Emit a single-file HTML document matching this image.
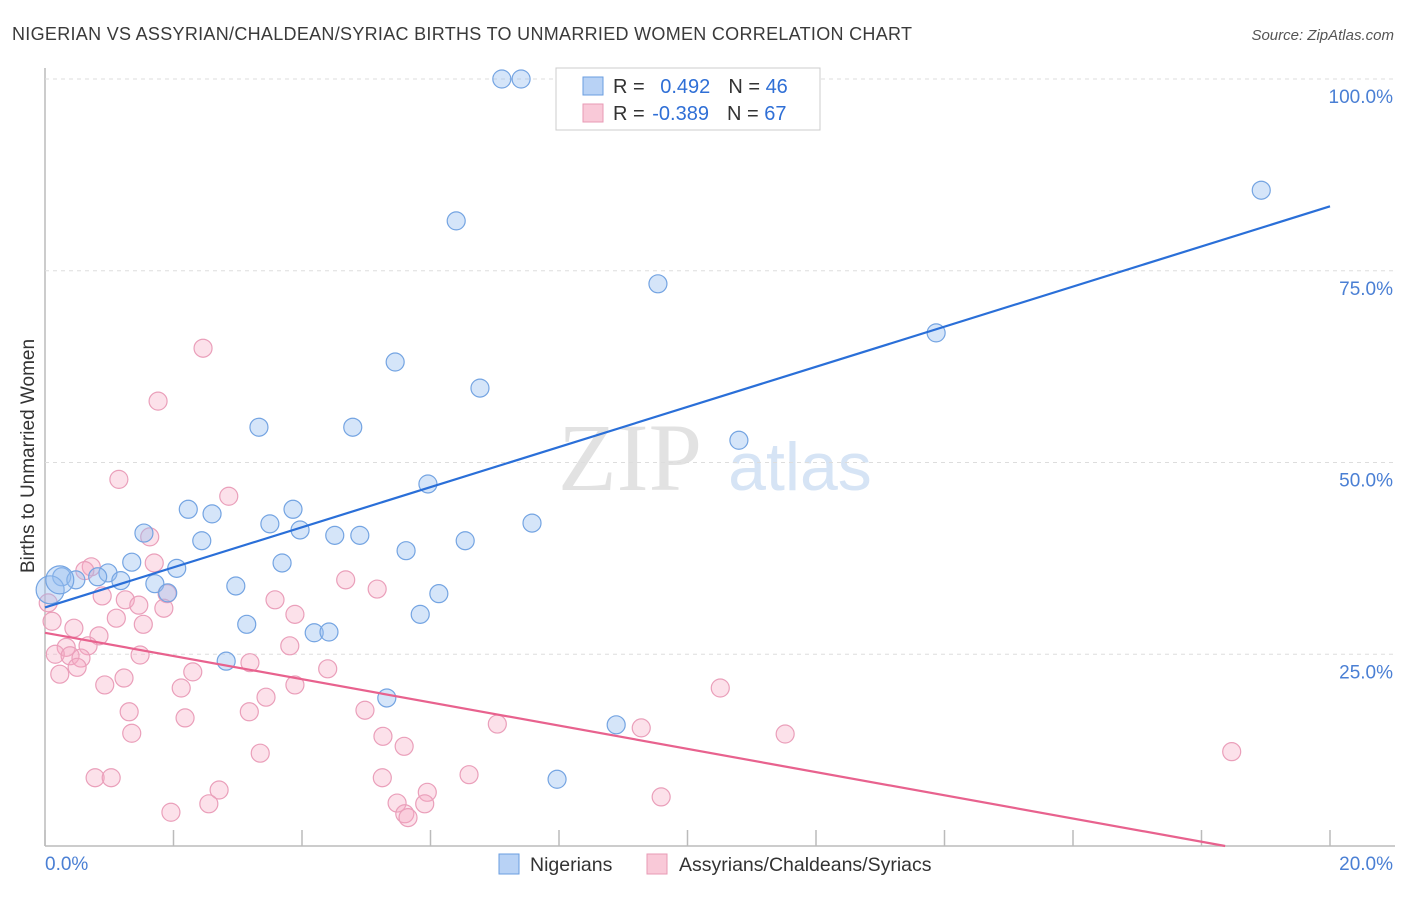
<!DOCTYPE html>
<html><head><meta charset="utf-8"><style>
body{margin:0;background:#fff;font-family:"Liberation Sans",sans-serif;}
</style></head><body>
<svg id="chart" width="1406" height="892" xmlns="http://www.w3.org/2000/svg">
<text x="12" y="40" font-size="18" fill="#3a3a3a" textLength="900">NIGERIAN VS ASSYRIAN/CHALDEAN/SYRIAC BIRTHS TO UNMARRIED WOMEN CORRELATION CHART</text>
<text x="1394" y="40" font-size="15" fill="#555" font-style="italic" text-anchor="end">Source: ZipAtlas.com</text>
<text x="630" y="490" font-size="96" fill="#e2e2e2" font-family="Liberation Serif,serif" text-anchor="middle">ZIP</text>
<text x="800" y="490" font-size="68" fill="#d6e4f5" text-anchor="middle">atlas</text>
<g id="grid"></g><g id="marks"></g>
<text x="34" y="456" font-size="19" fill="#333" text-anchor="middle" transform="rotate(-90 34 456)">Births to Unmarried Women</text>
<g>
<rect x="556" y="68" width="264" height="62" fill="#fff" stroke="#ccc"/>
<rect x="583" y="77" width="20" height="18" fill="#b8d2f5" stroke="#6a9ee0"/>
<rect x="583" y="104" width="20" height="18" fill="#f9c9d8" stroke="#e89ab5"/>
<text x="613" y="93" font-size="20" fill="#333">R = <tspan fill="#2f6fd6" dx="10">0.492</tspan><tspan fill="#333" dx="18">N = </tspan><tspan fill="#2f6fd6">46</tspan></text>
<text x="613" y="120" font-size="20" fill="#333">R = <tspan fill="#2f6fd6" dx="2">-0.389</tspan><tspan fill="#333" dx="18">N = </tspan><tspan fill="#2f6fd6">67</tspan></text>
</g>
<g>
<rect x="499" y="854" width="20" height="20" fill="#b8d2f5" stroke="#6a9ee0"/>
<text x="530" y="871" font-size="19.5" fill="#333">Nigerians</text>
<rect x="647" y="854" width="20" height="20" fill="#f9c9d8" stroke="#e89ab5"/>
<text x="679" y="871" font-size="19.5" fill="#333">Assyrians/Chaldeans/Syriacs</text>
</g>
</svg>
<script>
const yTicks=[25,50,75,100];
const yTickLabels=["25.0%","50.0%","75.0%","100.0%"];
const xTicks=[0,2,4,6,8,10,12,14,16,18,20];
const blueX=[7.11,7.41,18.93,6.40,9.54,13.87,5.45,6.77,3.33,4.79,10.80,5.96,2.23,2.60,3.86,1.54,2.44,3.50,3.97,4.51,4.90,7.58,6.54,5.62,1.35,3.69,2.05,0.98,0.82,0.26,0.48,1.18,1.71,1.91,2.97,6.13,5.84,3.14,4.19,4.42,2.82,5.32,8.89,7.97];
const blueY=[100,100,85.5,81.5,73.3,66.9,63.1,59.7,54.6,54.6,52.9,47.2,43.9,43.3,43.9,40.8,39.8,42.0,41.2,40.5,40.5,42.1,39.8,38.5,37.0,36.9,36.2,35.6,35.1,35.1,34.7,34.6,34.2,33.0,33.9,32.9,30.2,28.9,27.8,27.9,24.1,19.3,15.8,8.7];
const blueBigX=[0.08,0.23];
const blueBigY=[33.4,34.7];
const pinkX=[2.46,1.76,1.15,2.86,1.63,0.72,0.62,1.70,4.68,5.17,0.89,3.58,1.25,1.46,1.90,1.85,1.11,0.05,3.89,0.11,0.45,0.84,1.53,3.81,0.33,0.67,0.16,0.39,0.56,0.50,0.23,1.48,3.19,2.30,4.40,1.23,0.93,2.12,3.44,3.89,10.51,1.31,2.18,3.18,4.98,7.04,9.28,1.35,5.26,5.59,11.52,3.35,18.47,0.78,1.03,6.60,5.25,2.71,5.95,9.59,1.96,2.55,5.48,5.91,5.60,5.65];
const pinkY=[64.9,58.0,47.8,45.6,40.3,36.4,35.9,36.9,34.7,33.5,32.6,32.1,32.1,31.4,32.9,31.0,29.7,31.7,30.2,29.3,28.4,27.4,28.9,26.1,25.9,26.1,25.0,24.8,24.5,23.3,22.4,24.9,23.9,22.7,23.1,21.9,21.0,20.6,19.4,21.0,20.6,17.5,16.7,17.5,17.7,15.9,15.4,14.7,14.3,13.0,14.6,12.1,12.3,8.9,8.9,9.3,8.9,7.3,7.0,6.4,4.4,5.5,5.6,5.5,4.2,3.7];
const blueTrend=[31.1,83.4];   // value at x=0, x=20
const pinkTrend=[27.8,-2.47];
const NS="http://www.w3.org/2000/svg";
const sx=v=>45+v*64.25, sy=v=>846-v*7.67;
const grid=document.getElementById('grid'), marks=document.getElementById('marks');
function mk(tag,attrs,parent){const e=document.createElementNS(NS,tag);for(const k in attrs)e.setAttribute(k,attrs[k]);parent.appendChild(e);return e;}
let e=mk('line',{x1:45,y1:68,x2:45,y2:846,stroke:'#bbb','stroke-width':1.5},grid);


e=mk('line',{x1:45,y1:846,x2:1395,y2:846,stroke:'#bbb','stroke-width':1.5},grid);


yTicks.forEach((t,i)=>{
 const g=mk('line',{x1:45,y1:sy(t),x2:1395,y2:sy(t),stroke:'#ddd','stroke-dasharray':'4,4'},grid);
 
 
 const l=mk('text',{x:1393,y:sy(t)+24,'font-size':19,fill:'#4a7fd4','text-anchor':'end'},grid);
 l.textContent=yTickLabels[i];
 
 
});
xTicks.forEach(t=>{
 const k=mk('line',{x1:sx(t),y1:830,x2:sx(t),y2:846,stroke:'#bbb','stroke-width':1.5},grid);
 
 
});
e=mk('text',{x:45,y:870,'font-size':19,fill:'#4a7fd4'},grid);e.textContent='0.0%';


e=mk('text',{x:1393,y:870,'font-size':19,fill:'#4a7fd4','text-anchor':'end'},grid);e.textContent='20.0%';


function dots(X,Y,r,fill,stroke,name){X.forEach((x,i)=>{const c=mk('circle',{cx:sx(x),cy:sy(Y[i]),r:r,fill:fill,stroke:stroke,'stroke-width':1.2},marks);
 
 });}
dots(pinkX,pinkY,9,'rgba(245,170,195,0.35)','#ea9fba','assyrian-point');
dots(blueX,blueY,9,'rgba(150,190,240,0.4)','#74a4e2','nigerian-point');
dots(blueBigX,blueBigY,14,'rgba(150,190,240,0.4)','#74a4e2','nigerian-point');
e=mk('line',{x1:sx(0),y1:sy(blueTrend[0]),x2:sx(20),y2:sy(blueTrend[1]),stroke:'#2a6fd8','stroke-width':2.2},marks);


const pz=pinkTrend[0]/(pinkTrend[0]-pinkTrend[1])*20;
const pend=Math.min(20,pz);
e=mk('line',{x1:sx(0),y1:sy(pinkTrend[0]),x2:sx(pend),y2:sy(pinkTrend[0]+(pinkTrend[1]-pinkTrend[0])*pend/20),stroke:'#e8628e','stroke-width':2.2},marks);


</script>
</body></html>
